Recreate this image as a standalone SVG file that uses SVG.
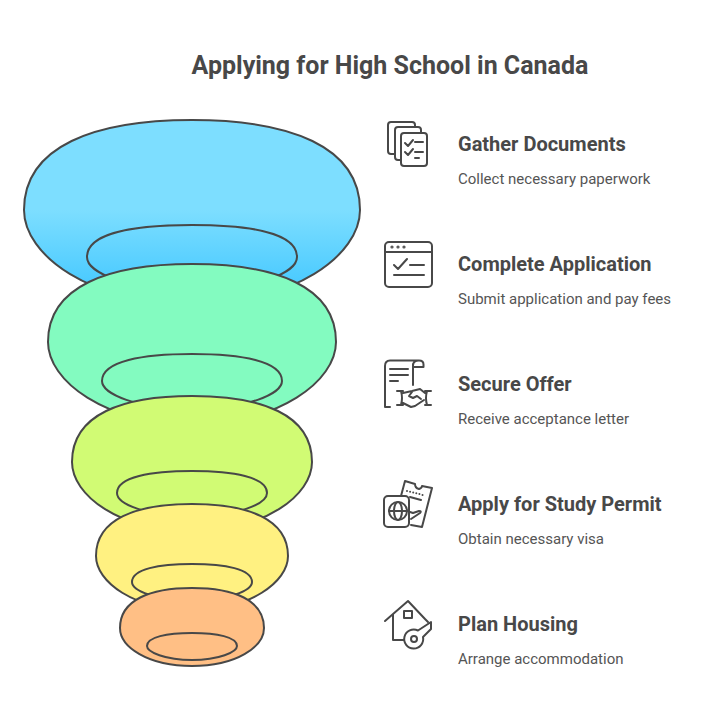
<svg xmlns="http://www.w3.org/2000/svg" width="709" height="720" viewBox="0 0 709 720">
<style>
text{font-family:Roboto,"Liberation Sans",sans-serif}
.t{font-size:25px;font-weight:700;fill:#484848}
.h{font-size:20px;font-weight:700;fill:#484848}
.d{font-size:15px;fill:#555}
.b{stroke:#484848;stroke-width:2}
.n{fill:none;stroke:#484848;stroke-width:2}
.i{fill:none;stroke:#484848;stroke-width:2;stroke-linecap:round;stroke-linejoin:round}
.w{fill:#fff}
</style>
<defs>
<linearGradient id="g1" gradientUnits="userSpaceOnUse" x1="0" y1="120" x2="0" y2="300">
<stop offset="0" stop-color="#7ddeff"/><stop offset="0.5" stop-color="#7ddeff"/><stop offset="1" stop-color="#3fc6ff"/>
</linearGradient>
</defs>
<rect width="709" height="720" fill="#fff"/>
<text class="t" x="390" y="74" text-anchor="middle">Applying for High School in Canada</text>
<g id="funnel">
<g id="level1"><path class="b" fill="url(#g1)" d="M192 120C95 120 24 146 24 210C24 255 90 304 192 304C294 304 360 255 360 210C360 146 289 120 192 120Z"/><path class="n" d="M192 225C134 225 87 233 87 257C87 273 128 290 192 290C256 290 297 273 297 257C297 233 250 225 192 225Z"/></g>
<g id="level2"><path class="b" fill="#83fbc0" d="M192 264C109 264 48 286 48 342C48 381 105 424 192 424C279 424 336 381 336 342C336 286 275 264 192 264Z"/><path class="n" d="M192 354C143 354 102 361 102 381C102 394 137 409 192 409C247 409 282 394 282 381C282 361 241 354 192 354Z"/></g>
<g id="level3"><path class="b" fill="#d1fb74" d="M192 396C123 396 72 414 72 462C72 495 119 531 192 531C265 531 312 495 312 462C312 414 261 396 192 396Z"/><path class="n" d="M192 471C151 471 117 477 117 493C117 504 146 516 192 516C238 516 267 504 267 493C267 477 233 471 192 471Z"/></g>
<g id="level4"><path class="b" fill="#fff181" d="M192 504C136 504 96 519 96 556C96 582 134 610 192 610C250 610 288 582 288 556C288 519 248 504 192 504Z"/><path class="n" d="M192 564C159 564 132 569 132 582C132 591 156 600 192 600C228 600 252 591 252 582C252 569 225 564 192 564Z"/></g>
<g id="level5"><path class="b" fill="#ffbf85" d="M192 588C150 588 120 600 120 628C120 647 148 666 192 666C236 666 264 647 264 628C264 600 234 588 192 588Z"/><path class="n" d="M192 633C167 633 147 637 147 646C147 652 165 660 192 660C219 660 237 652 237 646C237 637 217 633 192 633Z"/></g>
</g>
<g id="step1">
<g class="i"><rect x="388" y="122" width="27" height="32" rx="3"/><rect class="w" x="395" y="127" width="26" height="33" rx="3"/><rect class="w" x="401" y="133" width="26" height="33" rx="3"/><path d="M405 143l3 3 5-6M415 142h8M405 152l3 3 5-6M415 152h8M415 158h4"/></g>
<text class="h" x="458" y="151">Gather Documents</text><text class="d" x="458" y="184">Collect necessary paperwork</text>
</g>
<g id="step2">
<g class="i"><rect x="385" y="242" width="47" height="45" rx="4"/><path d="M385 252h47M394 265l4 4 9-10M410 265h14M394 275h30"/><circle cx="392" cy="247" r=".6"/><circle cx="398" cy="247" r=".6"/><circle cx="404" cy="247" r=".6"/></g>
<text class="h" x="458" y="271">Complete Application</text><text class="d" x="458" y="304">Submit application and pay fees</text>
</g>
<g id="step3">
<g class="i"><path d="M390 407h-5V366q0-5.500 5-5.500h29q4.500 0 4.500 4v2.500h-10.500M413 364v21M419 360.500q-6 0-6 5M390 369h18M390 375h18M390 381h8"/><path d="M397 391h6M401 391q2 7 0 14M397 405h6M425 391h6M427 391q-2 7 0 14M425 405h6M403 393l9-2 8-2 5 4M403 403l8 4 4-1 9-6M412 392l-3 4 4 2 4-2 4 3"/></g>
<text class="h" x="458" y="391">Secure Offer</text><text class="d" x="458" y="424">Receive acceptance letter</text>
</g>
<g id="step4">
<g class="i"><path d="M401 496l4-15 10 3q0 4 4 5 3-1 3-3l10 2-10 39-11-2M410 497l11 3"/><path d="M407 491l16 4" stroke-dasharray="0 3.200"/><rect class="w" x="384" y="496" width="25" height="31" rx="4"/><circle cx="398" cy="511" r="9"/><ellipse cx="398" cy="511" rx="4" ry="9"/><path d="M389 511h18"/><path d="M410 512l3 1 6-2q3 0 1 2l-9 6"/></g>
<text class="h" x="458" y="511">Apply for Study Permit</text><text class="d" x="458" y="544">Obtain necessary visa</text>
</g>
<g id="step5">
<g class="i"><path d="M385 621l23-20 17 18M393 614v26h11M425 619l3 3M404 611h8v7h-8z"/><path d="M418 630.500L431 622V629L423 637A9.500 9.500 0 1 1 418 630.500Z"/><circle cx="414" cy="639" r="3"/></g>
<text class="h" x="458" y="631">Plan Housing</text><text class="d" x="458" y="664">Arrange accommodation</text>
</g>
</svg>
